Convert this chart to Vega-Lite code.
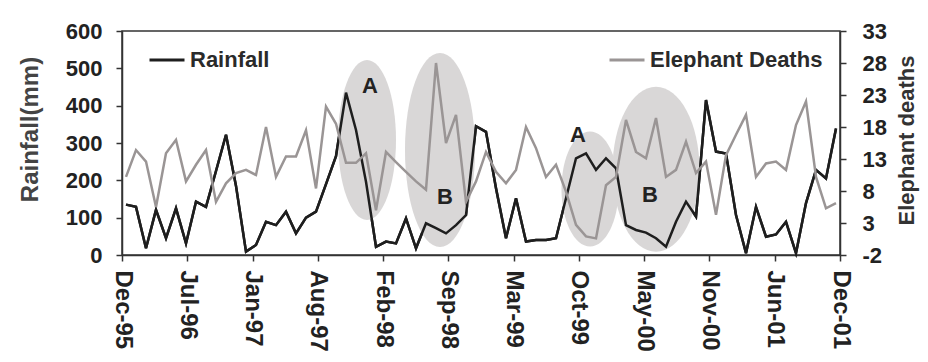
{
  "$schema": "https://vega.github.io/schema/vega-lite/v6.json",
  "autosize": {"type": "none"},
  "width": 718,
  "height": 224,
  "padding": {"left": 122, "top": 31, "right": 88, "bottom": 107},
  "background": "white",
  "config": {
    "font": "Liberation Sans",
    "view": {"stroke": "#333333", "strokeWidth": 1.5}
  },
  "datasets": {
    "series": [
      {"i": 0, "rain": 135, "deaths": 10.2},
      {"i": 1, "rain": 129, "deaths": 14.4},
      {"i": 2, "rain": 18, "deaths": 12.6},
      {"i": 3, "rain": 121, "deaths": 5.5},
      {"i": 4, "rain": 45, "deaths": 13.9},
      {"i": 5, "rain": 125, "deaths": 16.0},
      {"i": 6, "rain": 31, "deaths": 9.5},
      {"i": 7, "rain": 143, "deaths": 12.1},
      {"i": 8, "rain": 129, "deaths": 14.4},
      {"i": 9, "rain": 225, "deaths": 6.3},
      {"i": 10, "rain": 322, "deaths": 9.2},
      {"i": 11, "rain": 185, "deaths": 10.8},
      {"i": 12, "rain": 9, "deaths": 11.3},
      {"i": 13, "rain": 27, "deaths": 10.5},
      {"i": 14, "rain": 89, "deaths": 18.0},
      {"i": 15, "rain": 80, "deaths": 10.2},
      {"i": 16, "rain": 116, "deaths": 13.4},
      {"i": 17, "rain": 58, "deaths": 13.4},
      {"i": 18, "rain": 100, "deaths": 17.5},
      {"i": 19, "rain": 116, "deaths": 8.4},
      {"i": 20, "rain": 190, "deaths": 21.2},
      {"i": 21, "rain": 265, "deaths": 18.5},
      {"i": 22, "rain": 435, "deaths": 12.4},
      {"i": 23, "rain": 335, "deaths": 12.4},
      {"i": 24, "rain": 196, "deaths": 13.9},
      {"i": 25, "rain": 22, "deaths": 5.0},
      {"i": 26, "rain": 36, "deaths": 14.1},
      {"i": 27, "rain": 31, "deaths": 12.5},
      {"i": 28, "rain": 98, "deaths": 11.0},
      {"i": 29, "rain": 18, "deaths": 9.5},
      {"i": 30, "rain": 85, "deaths": 8.2},
      {"i": 31, "rain": 72, "deaths": 28.0},
      {"i": 32, "rain": 58, "deaths": 15.5},
      {"i": 33, "rain": 80, "deaths": 19.9},
      {"i": 34, "rain": 107, "deaths": 6.3},
      {"i": 35, "rain": 345, "deaths": 9.5},
      {"i": 36, "rain": 330, "deaths": 14.1},
      {"i": 37, "rain": 179, "deaths": 11.0},
      {"i": 38, "rain": 45, "deaths": 9.2},
      {"i": 39, "rain": 152, "deaths": 11.3},
      {"i": 40, "rain": 36, "deaths": 18.0},
      {"i": 41, "rain": 40, "deaths": 14.7},
      {"i": 42, "rain": 40, "deaths": 10.2},
      {"i": 43, "rain": 45, "deaths": 12.1},
      {"i": 44, "rain": 152, "deaths": 7.9},
      {"i": 45, "rain": 259, "deaths": 2.7},
      {"i": 46, "rain": 272, "deaths": 0.9},
      {"i": 47, "rain": 228, "deaths": 0.6},
      {"i": 48, "rain": 259, "deaths": 8.9},
      {"i": 49, "rain": 232, "deaths": 10.2},
      {"i": 50, "rain": 80, "deaths": 19.1},
      {"i": 51, "rain": 67, "deaths": 14.1},
      {"i": 52, "rain": 60, "deaths": 13.1},
      {"i": 53, "rain": 45, "deaths": 19.4},
      {"i": 54, "rain": 22, "deaths": 10.2},
      {"i": 55, "rain": 89, "deaths": 11.3},
      {"i": 56, "rain": 143, "deaths": 15.7},
      {"i": 57, "rain": 103, "deaths": 10.8},
      {"i": 58, "rain": 415, "deaths": 12.6},
      {"i": 59, "rain": 277, "deaths": 4.3},
      {"i": 60, "rain": 272, "deaths": 13.6},
      {"i": 61, "rain": 107, "deaths": 16.8},
      {"i": 62, "rain": 5, "deaths": 19.9},
      {"i": 63, "rain": 129, "deaths": 10.2},
      {"i": 64, "rain": 49, "deaths": 12.3},
      {"i": 65, "rain": 55, "deaths": 12.6},
      {"i": 66, "rain": 89, "deaths": 11.3},
      {"i": 67, "rain": 5, "deaths": 18.3},
      {"i": 68, "rain": 139, "deaths": 22.0},
      {"i": 69, "rain": 228, "deaths": 10.2},
      {"i": 70, "rain": 205, "deaths": 5.3},
      {"i": 71, "rain": 339, "deaths": 6.1}
    ],
    "zones": [
      {"zone": "A1", "i": 24.1, "mm": 308},
      {"zone": "B1", "i": 31.4, "mm": 281},
      {"zone": "A2", "i": 46.4, "mm": 177},
      {"zone": "B2", "i": 53.0, "mm": 230}
    ],
    "letters": [
      {"letter": "A", "i": 24.4, "mm": 453},
      {"letter": "B", "i": 31.9, "mm": 156},
      {"letter": "A", "i": 45.2, "mm": 321},
      {"letter": "B", "i": 52.4, "mm": 161}
    ]
  },
  "layer": [
    {
      "data": {"name": "series"},
      "mark": {"type": "line", "strokeWidth": 2.5, "strokeJoin": "miter"},
      "encoding": {
        "x": {
          "field": "i", "type": "quantitative",
          "scale": {"domain": [-0.4, 71.4], "nice": false, "zero": false},
          "axis": {
            "values": [-0.4, 6.12727, 12.65455, 19.18182, 25.70909, 32.23636, 38.76364, 45.29091, 51.81818, 58.34545, 64.87273, 71.4],
            "labelExpr": "['Dec-95','Jul-96','Jan-97','Aug-97','Feb-98','Sep-98','Mar-99','Oct-99','May-00','Nov-00','Jun-01','Dec-01'][round((datum.value + 0.4) / 6.52727)]",
            "labelAngle": 90, "labelAlign": "left", "labelBaseline": "middle",
            "labelFontSize": 24, "labelFontWeight": "bold", "labelColor": "#222222",
            "labelPadding": 9, "labelFlush": false, "labelOverlap": false, "labelBound": false,
            "tickSize": 6, "tickColor": "#333333", "tickWidth": 1.5,
            "domainColor": "#333333", "domainWidth": 1.5,
            "grid": false, "title": null
          }
        },
        "y": {
          "field": "rain", "type": "quantitative",
          "scale": {"domain": [0, 600], "nice": false, "zero": false},
          "axis": {
            "orient": "left",
            "values": [0, 100, 200, 300, 400, 500, 600],
            "labelFontSize": 22, "labelFontWeight": "bold", "labelColor": "#222222",
            "labelPadding": 14, "tickSize": 6, "tickColor": "#333333", "tickWidth": 1.5,
            "domainColor": "#333333", "domainWidth": 1.5, "grid": false,
            "title": "Rainfall(mm)", "titleFontSize": 24, "titleFontWeight": "bold", "titleColor": "#444444",
            "titleX": -92, "titleY": 98, "titleBaseline": "middle", "titleAlign": "center", "titleAngle": 270
          }
        },
        "color": {
          "datum": "Rainfall",
          "scale": {"domain": ["Rainfall", "Elephant Deaths"], "range": ["#1e1e1e", "#9a9595"]},
          "legend": {
            "orient": "none", "legendX": 26, "legendY": 10, "direction": "horizontal",
            "title": null, "symbolType": "stroke", "symbolSize": 1225, "symbolStrokeWidth": 3,
            "labelFontSize": 22, "labelFontWeight": "bold", "labelColor": "#2a2a2a", "labelLimit": 400,
            "labelOffset": 4, "columnPadding": 333, "padding": 0
          }
        }
      }
    },
    {
      "data": {"name": "zones"},
      "transform": [{"filter": "datum.zone === 'A1'"}],
      "mark": {"type": "point", "shape": "M -0.3625 0 A 0.3625 1 0 1 0 0.3625 0 A 0.3625 1 0 1 0 -0.3625 0 Z", "size": 25600, "filled": true, "fill": "#d9d7d7", "strokeWidth": 0, "opacity": 1},
      "encoding": {
        "x": {"field": "i", "type": "quantitative", "scale": {"domain": [-0.4, 71.4], "nice": false, "zero": false}},
        "y": {"field": "mm", "type": "quantitative", "scale": {"domain": [0, 600], "nice": false, "zero": false}, "axis": null}
      }
    },
    {
      "data": {"name": "zones"},
      "transform": [{"filter": "datum.zone === 'B1'"}],
      "mark": {"type": "point", "shape": "M -0.361 0 A 0.361 1 0 1 0 0.361 0 A 0.361 1 0 1 0 -0.361 0 Z", "size": 37636, "filled": true, "fill": "#d9d7d7", "strokeWidth": 0, "opacity": 1},
      "encoding": {
        "x": {"field": "i", "type": "quantitative", "scale": {"domain": [-0.4, 71.4], "nice": false, "zero": false}},
        "y": {"field": "mm", "type": "quantitative", "scale": {"domain": [0, 600], "nice": false, "zero": false}, "axis": null}
      }
    },
    {
      "data": {"name": "zones"},
      "transform": [{"filter": "datum.zone === 'A2'"}],
      "mark": {"type": "point", "shape": "M -0.496 0 A 0.496 1 0 1 0 0.496 0 A 0.496 1 0 1 0 -0.496 0 Z", "size": 13225, "filled": true, "fill": "#d9d7d7", "strokeWidth": 0, "opacity": 1},
      "encoding": {
        "x": {"field": "i", "type": "quantitative", "scale": {"domain": [-0.4, 71.4], "nice": false, "zero": false}},
        "y": {"field": "mm", "type": "quantitative", "scale": {"domain": [0, 600], "nice": false, "zero": false}, "axis": null}
      }
    },
    {
      "data": {"name": "zones"},
      "transform": [{"filter": "datum.zone === 'B2'"}],
      "mark": {"type": "point", "shape": "M -0.527 0 A 0.527 1 0 1 0 0.527 0 A 0.527 1 0 1 0 -0.527 0 Z", "size": 27225, "filled": true, "fill": "#d9d7d7", "strokeWidth": 0, "opacity": 1},
      "encoding": {
        "x": {"field": "i", "type": "quantitative", "scale": {"domain": [-0.4, 71.4], "nice": false, "zero": false}},
        "y": {"field": "mm", "type": "quantitative", "scale": {"domain": [0, 600], "nice": false, "zero": false}, "axis": null}
      }
    },
    {
      "data": {"name": "series"},
      "mark": {"type": "line", "strokeWidth": 2.5, "strokeJoin": "miter"},
      "encoding": {
        "x": {"field": "i", "type": "quantitative", "scale": {"domain": [-0.4, 71.4], "nice": false, "zero": false}},
        "y": {"field": "rain", "type": "quantitative", "scale": {"domain": [0, 600], "nice": false, "zero": false}, "axis": null},
        "color": {"datum": "Rainfall"}
      }
    },
    {
      "data": {"name": "series"},
      "mark": {"type": "line", "strokeWidth": 2.5, "strokeJoin": "miter"},
      "encoding": {
        "x": {"field": "i", "type": "quantitative", "scale": {"domain": [-0.4, 71.4], "nice": false, "zero": false}},
        "y": {
          "field": "deaths", "type": "quantitative",
          "scale": {"domain": [-2, 33], "nice": false, "zero": false},
          "axis": {
            "orient": "right",
            "values": [-2, 3, 8, 13, 18, 23, 28, 33],
            "labelExpr": "'' + datum.value",
            "labelFontSize": 22, "labelFontWeight": "bold", "labelColor": "#222222",
            "labelPadding": 16, "tickSize": 6, "tickColor": "#333333", "tickWidth": 1.5,
            "domainColor": "#333333", "domainWidth": 1.5, "grid": false,
            "title": "Elephant deaths", "titleFontSize": 22, "titleFontWeight": "bold", "titleColor": "#333333",
            "titleX": 66, "titleY": 109, "titleBaseline": "middle", "titleAlign": "center", "titleAngle": 270
          }
        },
        "color": {"datum": "Elephant Deaths"}
      }
    },
    {
      "data": {"name": "letters"},
      "mark": {"type": "text", "fontSize": 22, "fontWeight": "bold", "color": "#222222", "align": "center", "baseline": "middle"},
      "encoding": {
        "x": {"field": "i", "type": "quantitative", "scale": {"domain": [-0.4, 71.4], "nice": false, "zero": false}},
        "y": {"field": "mm", "type": "quantitative", "scale": {"domain": [0, 600], "nice": false, "zero": false}, "axis": null},
        "text": {"field": "letter"}
      }
    }
  ],
  "resolve": {"scale": {"y": "independent"}}
}
